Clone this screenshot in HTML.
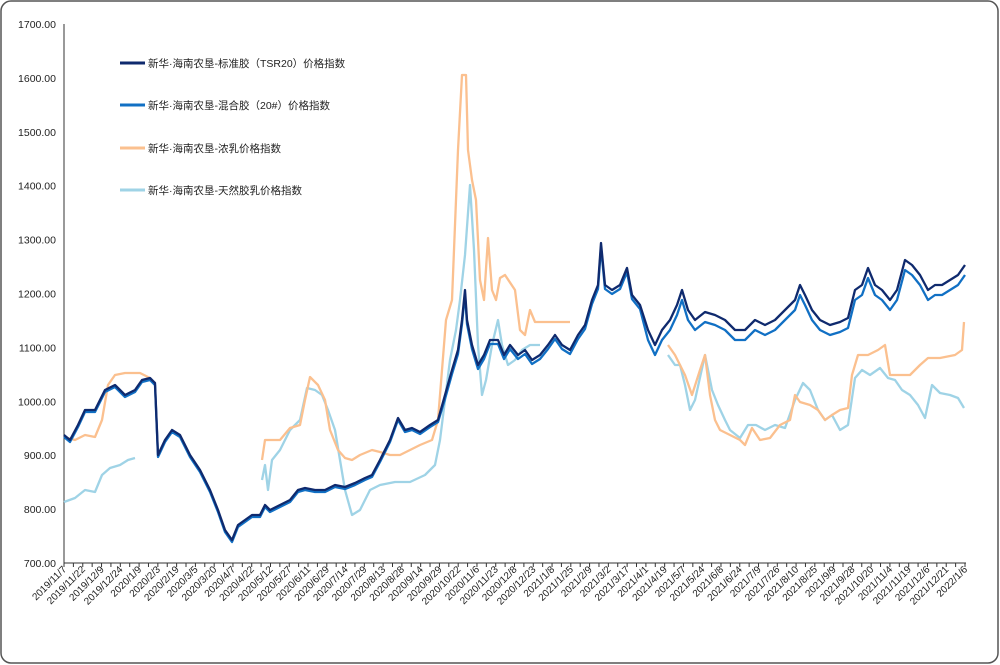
<!DOCTYPE html>
<html><head><meta charset="utf-8"><style>
html,body{margin:0;padding:0;background:#fff;}
svg{display:block;font-family:"Liberation Sans","Noto Sans CJK SC",sans-serif;}
</style></head><body>
<svg id="s" width="1000" height="665" viewBox="0 0 1000 665">
<rect x="1" y="1" width="997" height="662" rx="10" fill="#fff" stroke="#555" stroke-width="1.5"/>
<g id="ax"></g>
<g fill="none" stroke-width="2.3" stroke-linejoin="round">
<polyline id="lb" stroke="#9fd3e6"/>
<polyline id="lb2" stroke="#9fd3e6"/>
<polyline id="lb3" stroke="#9fd3e6"/>
<polyline id="or" stroke="#fbc08f"/>
<polyline id="or2" stroke="#fbc08f"/>
<polyline id="or3" stroke="#fbc08f"/>
<polyline id="bl" stroke="#1170c4"/>
<polyline id="nv" stroke="#0f2a6e"/>
</g>
<g font-size="10.5" fill="#222">
<line x1="120" y1="63" x2="145" y2="63" stroke="#0f2a6e" stroke-width="3"/><text x="148" y="67">新华·海南农垦-标准胶（TSR20）价格指数</text>
<line x1="120" y1="105" x2="145" y2="105" stroke="#1170c4" stroke-width="3"/><text x="148" y="109">新华·海南农垦-混合胶（20#）价格指数</text>
<line x1="120" y1="148" x2="145" y2="148" stroke="#fbc08f" stroke-width="3"/><text x="148" y="152">新华·海南农垦-浓乳价格指数</text>
<line x1="120" y1="190" x2="145" y2="190" stroke="#9fd3e6" stroke-width="3"/><text x="148" y="194">新华·海南农垦-天然胶乳价格指数</text>
</g>
</svg>
<script>
function P(id,s){document.getElementById(id).setAttribute('points',s);}
var nv="64,435 70,440 78,425 85,410 95,410 105,390 115,385 125,395 135,390 142,380 150,378 155,383 158,455 165,440 172,430 180,435 185,445 190,455 200,470 210,490 218,510 225,530 232,540 238,525 245,520 252,515 260,515 265,505 270,510 280,505 290,500 298,490 305,488 315,490 325,490 335,485 345,487 355,483 365,478 372,475 380,460 390,440 398,418 405,430 412,428 420,432 430,425 438,420 445,395 452,370 458,350 462,320 465,290 467,320 472,345 478,365 484,355 490,340 498,340 504,355 510,345 518,355 525,350 532,360 540,355 548,345 555,335 562,345 570,350 578,335 585,325 592,300 598,285 601,243 605,285 612,290 620,285 627,268 632,295 640,305 648,330 655,345 662,330 670,320 677,305 682,290 688,310 695,320 705,312 715,315 725,320 735,330 745,330 755,320 765,325 775,320 785,310 795,300 800,285 805,295 812,310 820,320 830,325 840,322 848,318 855,290 862,285 868,268 875,285 882,290 890,300 897,290 905,260 912,265 920,275 928,290 935,285 942,285 950,280 958,275 965,265";
P('nv',nv);
P('bl',nv.split(' ').map(function(p){var a=p.split(',').map(Number);var d=a[0]>640?10:(a[0]>440?4:2);return a[0]+','+(a[1]+d);}).join(' '));
P('or',"64,437 75,440 85,435 95,437 102,420 108,385 115,375 125,373 140,373 150,378");
P('or2',"262,460 265,440 280,440 290,428 300,425 305,400 310,377 318,385 325,400 330,430 338,450 345,458 352,460 360,455 372,450 380,452 390,455 400,455 410,450 420,445 432,440 438,420 442,370 446,320 452,300 458,150 462,75 466,75 468,150 472,180 476,200 480,280 484,300 488,238 492,290 496,300 500,278 505,275 515,290 520,330 525,335 530,310 535,322 545,322 560,322 570,322");
P('or3',"668,345 675,355 685,375 692,395 700,370 705,355 710,395 715,420 720,430 730,435 740,440 745,445 752,428 760,440 770,438 780,425 790,420 795,395 800,402 810,405 818,410 825,420 832,415 840,410 848,408 852,375 858,355 868,355 878,350 885,345 890,375 900,375 910,375 920,365 928,358 940,358 955,355 962,350 964,322");
P('lb',"64,502 75,498 85,490 95,492 102,475 110,468 120,465 128,460 135,458");
P('lb2',"262,480 265,465 268,490 272,460 280,450 290,430 300,420 307,388 315,390 322,395 328,410 335,430 345,490 352,515 360,510 370,490 380,485 395,482 410,482 425,475 435,465 440,440 445,400 450,360 456,330 460,300 465,255 470,185 474,250 478,345 482,395 486,380 492,345 498,320 502,345 508,365 515,360 522,350 530,345 540,345");
P('lb3',"668,355 675,365 680,365 685,385 690,410 695,400 705,355 712,390 718,405 725,420 730,430 740,438 748,425 756,425 765,430 775,425 785,428 795,400 803,383 810,390 818,410 825,420 832,415 840,430 848,425 855,378 862,370 870,375 880,368 888,378 895,380 902,390 910,395 918,405 925,418 932,385 940,393 950,395 958,398 964,408");
var ax=document.getElementById('ax'),h='';
h+='<line x1="64" y1="24" x2="64" y2="563" stroke="#333"/><line x1="64" y1="563" x2="966" y2="563" stroke="#333"/>';
for(var v=700;v<=1700;v+=100){var y=563-(v-700)*0.539;h+='<text x="56" y="'+(y+4)+'" font-size="10.5" text-anchor="end" fill="#222">'+v+'.00</text>';}
var L="2019/11/7 2019/11/22 2019/12/9 2019/12/24 2020/1/9 2020/2/3 2020/2/19 2020/3/5 2020/3/20 2020/4/7 2020/4/22 2020/5/12 2020/5/27 2020/6/11 2020/6/29 2020/7/14 2020/7/29 2020/8/13 2020/8/28 2020/9/14 2020/9/29 2020/10/22 2020/11/6 2020/11/23 2020/12/8 2020/12/23 2021/1/8 2021/1/25 2021/2/9 2021/3/2 2021/3/17 2021/4/1 2021/4/19 2021/5/7 2021/5/24 2021/6/8 2021/6/24 2021/7/9 2021/7/26 2021/8/10 2021/8/25 2021/9/9 2021/9/28 2021/10/20 2021/11/4 2021/11/19 2021/12/6 2021/12/21 2022/1/6".split(' ');
var sp=(965-64)/48;
for(var i=0;i<L.length;i++){var x=64+i*sp;h+='<line x1="'+x+'" y1="563" x2="'+x+'" y2="567" stroke="#333"/>';if(i<48)h+='<line x1="'+(x+sp/2)+'" y1="563" x2="'+(x+sp/2)+'" y2="567" stroke="#333"/>';
h+='<text transform="translate('+(x+3)+',570) rotate(-45)" font-size="10" text-anchor="end" fill="#222">'+L[i]+'</text>';}
ax.innerHTML=h;
</script>
</body></html>
